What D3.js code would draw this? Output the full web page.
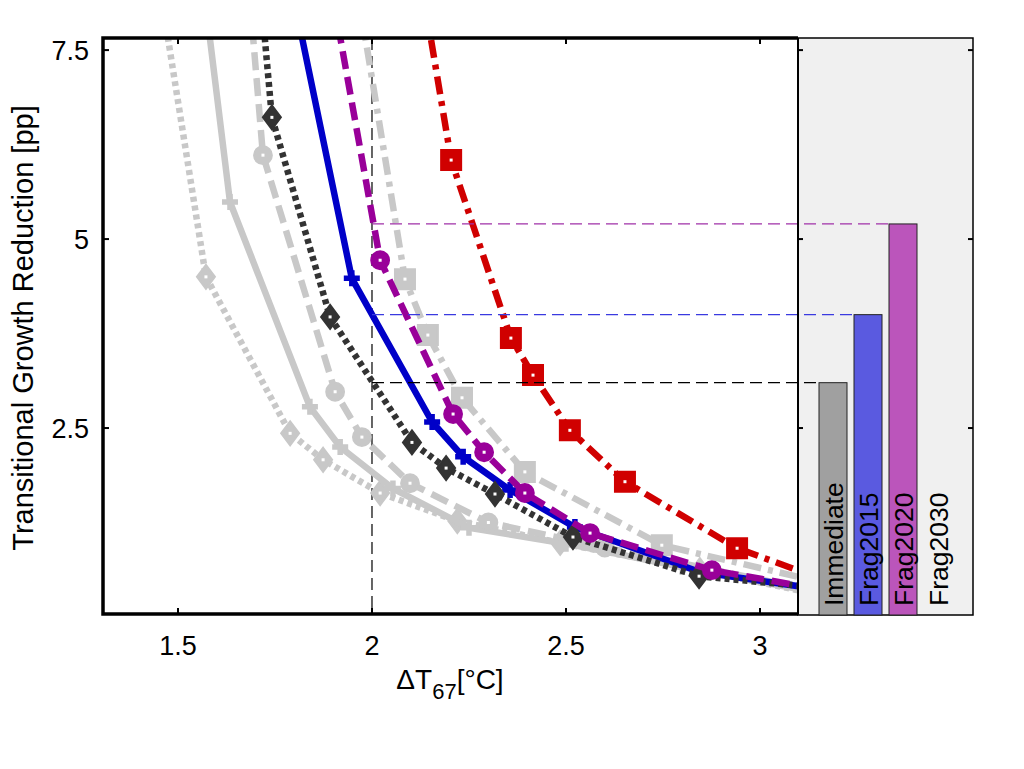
<!DOCTYPE html>
<html><head><meta charset="utf-8">
<script src="https://cdn.jsdelivr.net/npm/d3@7"></script>
<style>
body{margin:0;background:#fff}
svg{display:block}
text{font-family:Arial,"Liberation Sans",Helvetica,sans-serif;fill:#000}
</style>
</head><body>
<svg id="c" width="1024" height="769"></svg>
<script>
// ---------- data ----------
const xTicks = [1.5, 2, 2.5, 3];
const xTickLabels = ["1.5", "2", "2.5", "3"];
const yTicks = [2.5, 5, 7.5];
const yTickLabels = ["2.5", "5", "7.5"];

const barCategories = ["Immediate", "Frag2015", "Frag2020", "Frag2030"];
const barValues = [3.1, 4.0, 5.2, null];
const refX = 2;

// light gray dotted, diamonds
const s1x = [1.448, 1.572, 1.789, 1.874, 2.021, 2.220, 2.485, 2.845, 3.15];
const s1y = [8.5, 4.50, 2.43, 2.08, 1.64, 1.27, 0.98, 0.62, 0.30];
// light gray solid, plus
const s2x = [1.562, 1.634, 1.840, 1.918, 2.054, 2.250, 2.500, 2.800, 3.15];
const s2y = [8.5, 5.49, 2.78, 2.25, 1.70, 1.18, 0.97, 0.66, 0.32];
// light gray dashed, circles
const s3x = [1.680, 1.719, 1.905, 1.974, 2.098, 2.300, 2.600, 3.15];
const s3y = [8.5, 6.11, 2.98, 2.38, 1.77, 1.25, 0.92, 0.34];
// dark gray dotted, diamonds
const s4x = [1.709, 1.742, 1.892, 2.103, 2.191, 2.317, 2.518, 2.843, 3.15];
const s4y = [8.5, 6.61, 3.97, 2.31, 1.97, 1.627, 1.058, 0.54, 0.39];
// blue solid, plus
const s5x = [1.786, 1.948, 2.155, 2.235, 2.356, 2.523, 2.845, 3.15];
const s5y = [8.5, 4.48, 2.58, 2.12, 1.68, 1.19, 0.595, 0.37];
// purple dashed, circles
const s6x = [1.889, 2.021, 2.209, 2.289, 2.394, 2.562, 2.876, 3.15];
const s6y = [8.5, 4.72, 2.685, 2.18, 1.64, 1.11, 0.62, 0.37];
// light gray dash-dot, squares
const s7x = [1.956, 2.085, 2.144, 2.232, 2.394, 2.747, 3.15];
const s7y = [8.5, 4.47, 3.73, 2.90, 1.92, 0.95, 0.47];
// red dash-dot, squares
const s8x = [2.121, 2.204, 2.358, 2.415, 2.510, 2.652, 2.941, 3.15];
const s8y = [8.6, 6.045, 3.69, 3.20, 2.47, 1.79, 0.91, 0.52];

// ---------- styles ----------
const LG = "#c8c8c8";
const series = [
  {x: s1x, y: s1y, color: LG, dash: "5,4", marker: "diamond"},
  {x: s2x, y: s2y, color: LG, dash: null, marker: "plus"},
  {x: s3x, y: s3y, color: LG, dash: "18,8", marker: "circle"},
  {x: s7x, y: s7y, color: LG, dash: "18,7,5,7", marker: "square"},
  {x: s5x, y: s5y, color: "#0000c8", dash: null, marker: "plus"},
  {x: s4x, y: s4y, color: "#333333", dash: "5,4", marker: "diamond"},
  {x: s6x, y: s6y, color: "#990099", dash: "18,8", marker: "circle"},
  {x: s8x, y: s8y, color: "#d00000", dash: "18,7,5,7", marker: "square"}
];
const barColors = ["#a0a0a0", "#5a5ae0", "#bb55bb", "#f0f0f0"];
const refColors = ["#000000", "#3a3ae0", "#a030a8"];

// ---------- layout ----------
const L = 103, R = 798, T = 38, B = 614, PR = 973;
const svg = d3.select("#c");
const x = d3.scaleLinear().domain([1.3067, 3.098]).range([L, R]);
const y = d3.scaleLinear().domain([0.053, 7.66]).range([B - 1, T]);
const xb = d3.scaleBand().domain(barCategories).range([815.5, 955.5])
  .paddingInner(0.2).paddingOuter(0.1);

svg.append("defs").append("clipPath").attr("id", "clip")
  .append("rect").attr("x", L).attr("y", T).attr("width", R - L).attr("height", B - T);

// bar panel
svg.append("rect").attr("x", R).attr("y", T).attr("width", PR - R).attr("height", B + 1 - T)
  .attr("fill", "#f0f0f0").attr("stroke", "#000").attr("stroke-width", 1.5);

// reference lines
const plot = svg.append("g").attr("clip-path", "url(#clip)");
plot.append("line").attr("x1", x(refX)).attr("x2", x(refX)).attr("y1", T).attr("y2", B)
  .attr("stroke", "#000").attr("stroke-width", 1.2).attr("stroke-dasharray", "12,6");

barValues.forEach((v, i) => {
  if (v == null) return;
  svg.append("line").attr("x1", x(refX)).attr("x2", xb(barCategories[i]))
    .attr("y1", y(v)).attr("y2", y(v))
    .attr("stroke", refColors[i]).attr("stroke-width", 1.2).attr("stroke-dasharray", "12,6");
});

// bars
barValues.forEach((v, i) => {
  if (v == null) return;
  svg.append("rect").attr("x", xb(barCategories[i])).attr("width", xb.bandwidth())
    .attr("y", y(v)).attr("height", (B + 1) - y(v))
    .attr("fill", barColors[i]).attr("stroke", "#222").attr("stroke-width", 1);
});
barCategories.forEach((c) => {
  const cx = xb(c) + xb.bandwidth() / 2;
  svg.append("text").attr("transform", `translate(${cx + 9.5},${B - 8}) rotate(-90)`)
    .attr("font-size", 26.5).attr("text-anchor", "start").text(c);
});

// curves
const line = d3.line().x((d) => x(d[0])).y((d) => y(d[1]));
function markerPath(type) {
  switch (type) {
    case "diamond": return "M0,-12L9,0L0,12L-9,0Z";
    case "square": return "M-10,-10H10V10H-10Z";
    case "circle": return d3.symbol(d3.symbolCircle, 250)();
    case "plus": return "M-8,0H8M0,-8V8";
  }
}
series.forEach((s) => {
  const pts = s.x.map((v, i) => [v, s.y[i]]);
  plot.append("path").datum(pts).attr("d", line).attr("fill", "none")
    .attr("stroke", s.color).attr("stroke-width", 6.5)
    .attr("stroke-dasharray", s.dash).attr("stroke-linejoin", "round");
  const g = plot.append("g");
  pts.forEach((p) => {
    const mg = g.append("g").attr("transform", `translate(${x(p[0])},${y(p[1])})`);
    if (s.marker === "plus") {
      mg.append("path").attr("d", markerPath("plus")).attr("stroke", s.color)
        .attr("stroke-width", 5.5).attr("fill", "none");
    } else {
      mg.append("path").attr("d", markerPath(s.marker)).attr("fill", s.color)
        .attr("stroke", s.color).attr("stroke-width", 2);
      mg.append("rect").attr("x", -1.5).attr("y", -1.5).attr("width", 3).attr("height", 3)
        .attr("fill", "#fff");
    }
  });
});

// axes frame
svg.append("path").attr("d", `M${R},${T}H${L}V${B}H${R}`).attr("fill", "none")
  .attr("stroke", "#000").attr("stroke-width", 3.5);
svg.append("line").attr("x1", R).attr("x2", R).attr("y1", T).attr("y2", B)
  .attr("stroke", "#000").attr("stroke-width", 2);

// ticks
xTicks.forEach((t, i) => {
  svg.append("line").attr("x1", x(t)).attr("x2", x(t)).attr("y1", B).attr("y2", B - 6)
    .attr("stroke", "#000").attr("stroke-width", 2);
  svg.append("line").attr("x1", x(t)).attr("x2", x(t)).attr("y1", T).attr("y2", T + 6)
    .attr("stroke", "#000").attr("stroke-width", 2);
  svg.append("text").attr("x", x(t)).attr("y", B + 41).attr("text-anchor", "middle")
    .attr("font-size", 27).text(xTickLabels[i]);
});
yTicks.forEach((t, i) => {
  [[L, L + 6], [R, R + 5], [PR, PR - 5]].forEach(([a, b]) => {
    svg.append("line").attr("x1", a).attr("x2", b).attr("y1", y(t)).attr("y2", y(t))
      .attr("stroke", "#000").attr("stroke-width", 2);
  });
  svg.append("text").attr("x", L - 14).attr("y", y(t)).attr("dy", "0.36em")
    .attr("text-anchor", "end").attr("font-size", 27).text(yTickLabels[i]);
});

// axis labels
const xl = svg.append("text").attr("x", 450).attr("y", 689).attr("text-anchor", "middle")
  .attr("font-size", 28);
xl.append("tspan").text("ΔT");
xl.append("tspan").attr("font-size", 22).attr("dy", 10).text("67");
xl.append("tspan").attr("dy", -10).text("[°C]");

svg.append("text").attr("transform", `translate(33,328) rotate(-90)`)
  .attr("text-anchor", "middle").attr("font-size", 29)
  .text("Transitional Growth Reduction [pp]");
</script>
</body></html>
